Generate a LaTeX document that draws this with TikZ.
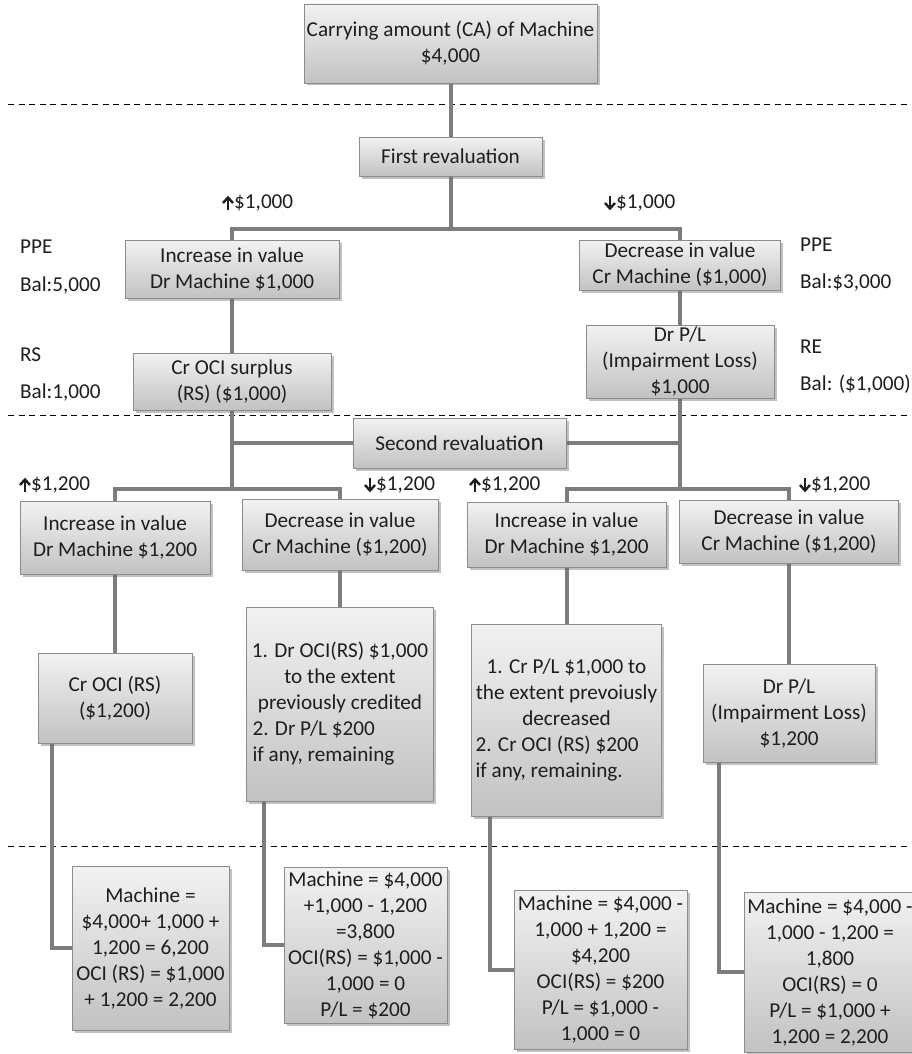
\documentclass[tikz,border=0pt]{standalone}
\usepackage{fontspec}
\setmainfont{Carlito}
\usetikzlibrary{shadows}
\definecolor{boxtop}{RGB}{242,242,242}
\definecolor{boxbot}{RGB}{194,194,194}
\definecolor{boxline}{RGB}{140,140,140}
\definecolor{connc}{RGB}{125,125,125}
\definecolor{txt}{RGB}{30,30,30}
\pgfdeclarelayer{bg}
\pgfsetlayers{bg,main}
\tikzset{
  box/.style={draw=boxline, line width=0.8pt, top color=boxtop, bottom color=boxbot,
    drop shadow={shadow xshift=2.5pt, shadow yshift=-2.5pt, opacity=0.4, fill=black!60},
    inner sep=1pt, align=center, text=txt, font=\fontsize{21.2}{26}\selectfont},
  lbl/.style={anchor=west, inner sep=0pt, text=txt, font=\fontsize{21.2}{26}\selectfont},
  cn/.style={draw=connc, line width=4pt},
  sepline/.style={draw=black, line width=1pt, dash pattern=on 6pt off 4.5pt},
  upa/.pic={\draw[txt, line width=2.4pt] (0,7) -- (0,-5);
            \draw[txt, line width=2.4pt, line join=miter] (-5,0) -- (0,-5.5) -- (5,0);},
  dna/.pic={\draw[txt, line width=2.4pt] (0,-7) -- (0,5);
            \draw[txt, line width=2.4pt, line join=miter] (-5,0) -- (0,5.5) -- (5,0);},
}
\begin{document}
\begin{tikzpicture}[x=1pt,y=-1pt]
\useasboundingbox (0,0) rectangle (911,1054);

% ---- boxes ----
\node[box, minimum width=293, minimum height=79] (top) at (450.5,43.5) {Carrying amount (CA) of Machine\\\$4,000};
\node[box, minimum width=183, minimum height=39] (rev1) at (450.5,156.5) {First revaluation};
\node[box, minimum width=214, minimum height=58] (inc1) at (232,269) {Increase in value\\Dr Machine \$1,000};
\node[box, minimum width=201, minimum height=50] (dec1) at (680,265) {Decrease in value\\Cr Machine (\$1,000)};
\node[box, minimum width=198, minimum height=57] (ocis) at (232,381.5) {Cr OCI surplus\\(RS) (\$1,000)};
\node[box, minimum width=188, minimum height=73] (dpl1) at (680,361.5) {Dr P/L\\(Impairment Loss)\\\$1,000};
\node[box, minimum width=213, minimum height=50] (rev2) at (459.5,443) {Second revaluati{\fontsize{25}{25}\selectfont on}};

\node[box, minimum width=190, minimum height=73] (A2) at (115,537.5) {Increase in value\\Dr Machine \$1,200};
\node[box, minimum width=196, minimum height=71] (B2) at (340,534.5) {Decrease in value\\Cr Machine (\$1,200)};
\node[box, minimum width=199, minimum height=65] (C2) at (566.5,534.5) {Increase in value\\Dr Machine \$1,200};
\node[box, minimum width=219, minimum height=63] (D2) at (789,531.5) {Decrease in value\\Cr Machine (\$1,200)};

\node[box, minimum width=154, minimum height=90] (A3) at (115,698) {Cr OCI (RS)\\(\$1,200)};
\node[box, align=left, minimum width=187, minimum height=194] (B3) at (340,704)
  {\makebox[175pt]{1. Dr OCI(RS) \$1,000}\\\makebox[175pt]{to the extent}\\\makebox[175pt]{previously credited}\\2. Dr P/L \$200\\if any, remaining};
\node[box, align=left, minimum width=190, minimum height=192] (C3) at (566.5,720)
  {\makebox[182pt]{1. Cr P/L \$1,000 to}\\\makebox[182pt]{the extent prevoiusly}\\\makebox[182pt]{decreased}\\2. Cr OCI (RS) \$200\\if any, remaining.};
\node[box, minimum width=172, minimum height=98] (D3) at (789,713) {Dr P/L\\(Impairment Loss)\\\$1,200};

\node[box, minimum width=157, minimum height=164] (A4) at (150.5,948) {Machine =\\\$4,000+ 1,000 +\\1,200 = 6,200\\OCI (RS) = \$1,000\\+ 1,200 = 2,200};
\node[box, minimum width=163, minimum height=156] (B4) at (365.5,945) {Machine = \$4,000\\+1,000 - 1,200\\=3,800\\OCI(RS) = \$1,000 -\\1,000 = 0\\P/L = \$200};
\node[box, minimum width=173, minimum height=159] (C4) at (600.5,969.5) {Machine = \$4,000 -\\1,000 + 1,200 =\\\$4,200\\OCI(RS) = \$200\\P/L = \$1,000 -\\1,000 = 0};
\node[box, minimum width=172, minimum height=160] (D4) at (830,972) {Machine = \$4,000 -\\1,000 - 1,200 =\\1,800\\OCI(RS) = 0\\P/L = \$1,000 +\\1,200 = 2,200};

% ---- side labels ----
\node[lbl] (u1) at (234,203) {\$1,000};
\node[lbl] (d1) at (616,203) {\$1,000};
\node[lbl] (ppeL) at (20,247) {PPE};
\node[lbl] (balL) at (20,285) {Bal:5,000};
\node[lbl] (rsL) at (20,355) {RS};
\node[lbl] (balR1) at (20,392) {Bal:1,000};
\node[lbl] (ppeR) at (800,245) {PPE};
\node[lbl] (balR) at (800,282) {Bal:\$3,000};
\node[lbl] (reR) at (800,347) {RE};
\node[lbl] (balRE) at (800,384) {Bal: (\$1,000)};
\node[lbl] (u2) at (31,485) {\$1,200};
\node[lbl] (d2) at (376,485) {\$1,200};
\node[lbl] (u3) at (481,485) {\$1,200};
\node[lbl] (d3) at (811,485) {\$1,200};
\pic at ([xshift=-6pt]u1.west) {upa};
\pic at ([xshift=-6pt]d1.west) {dna};
\pic at ([xshift=-6pt]u2.west) {upa};
\pic at ([xshift=-6pt]d2.west) {dna};
\pic at ([xshift=-6pt]u3.west) {upa};
\pic at ([xshift=-6pt]d3.west) {dna};

% ---- background: separators and connectors ----
\begin{pgfonlayer}{bg}
\fill[white] (0,0) rectangle (911,1054);
\draw[sepline] (8,105) -- (911,105);
\draw[sepline] (8,415) -- (911,415);
\draw[sepline] (8,846) -- (911,846);
\coordinate (j1) at (450.5,229);
\coordinate (j2L) at (232,489);
\coordinate (j2R) at (680,489);
\draw[cn] (top) -- (rev1);
\draw[cn] (rev1) -- (j1);
\draw[cn] (inc1.north) |- (j1) -| (dec1.north);
\draw[cn] (inc1) -- (ocis);
\draw[cn] (dec1) -- (dpl1);
\draw[cn] (ocis) -- (j2L);
\draw[cn] (dpl1) -- (j2R);
\draw[cn] (rev2.west) -- (rev2.west -| ocis);
\draw[cn] (rev2.east) -- (rev2.east -| dpl1);
\draw[cn] (A2.north) |- (j2L) -| (B2.north);
\draw[cn] (C2.north) |- (j2R) -| (D2.north);
\draw[cn] (A2) -- (A3);
\draw[cn] (B2) -- (B3);
\draw[cn] (C2) -- (C3);
\draw[cn] (D2) -- (D3);
\draw[cn] ([xshift=14pt]A3.south west) |- (A4.west);
\draw[cn] ([xshift=18pt]B3.south west) |- (B4.west);
\draw[cn] ([xshift=19pt]C3.south west) |- (C4.west);
\draw[cn] ([xshift=16pt]D3.south west) |- (D4.west);
\end{pgfonlayer}
\end{tikzpicture}
\end{document}
